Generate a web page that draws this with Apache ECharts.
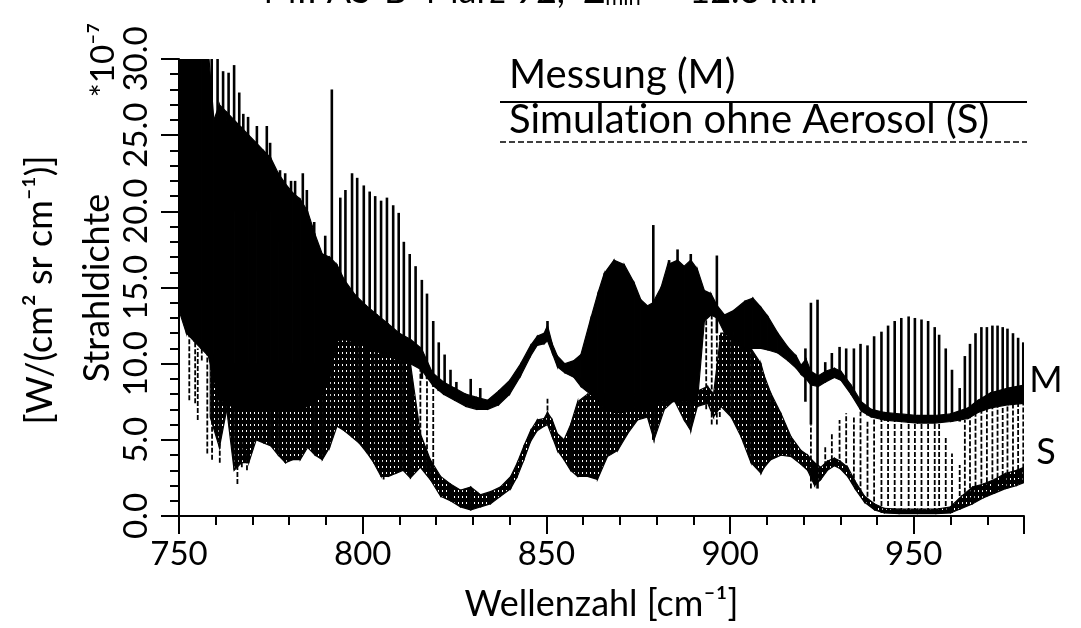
<!DOCTYPE html>
<html>
<head>
<meta charset="utf-8">
<script src="https://cdn.jsdelivr.net/npm/echarts@6/dist/echarts.min.js"></script>
<style>
  html, body { margin: 0; padding: 0; background: #fff; }
  #chart { width: 1081px; height: 628px; }
</style>
</head>
<body>
<div id="chart"></div>
<script>
// Wavenumber axis [cm^-1] and radiance axis [10^-7 W/(cm^2 sr cm^-1)]
const xTicks = [750, 800, 850, 900, 950];
const yTicks = [0, 5, 10, 15, 20, 25, 30];

// Measured spectrum (M): dense part as a band [wavenumber, lower, upper]
const messBand = [
  [750, 13.5, 30.5], [752, 12, 30.5], [754, 11.5, 30.5], [756, 11, 30.5], [758, 10.5, 30.5],
  [759.5, 9, 26], [761, 7.5, 27], [763, 7.5, 26.5], [765, 7, 26], [767, 7, 25.5],
  [769, 7, 25], [771, 7, 24.5], [773, 7, 24], [775, 7, 23.5], [777, 7, 22.5],
  [779, 7, 21.8], [781, 7, 21.2], [783, 7, 20.8], [785, 7.2, 20], [787, 7.5, 18.5],
  [789, 8, 17.2], [791, 9, 17], [793, 11.5, 16.5], [795, 11.6, 15.5], [798, 11.4, 14.5],
  [801, 11.1, 13.8], [804, 10.8, 13.2], [807, 10.5, 12.6], [810, 10.2, 12], [813, 10, 11.6],
  [816, 9.6, 11], [819, 8.6, 9.4], [822, 8.0, 8.8], [825, 7.6, 8.4], [828, 7.2, 8.0],
  [831, 7.0, 7.8], [834, 7.0, 7.6], [837, 7.3, 8.2], [840, 8.0, 8.9], [843, 9.2, 10.0],
  [845.7, 10.5, 11.2], [847.5, 11.2, 11.8], [849.4, 11.3, 12.0], [850.3, 11.5, 12.5], [851.6, 10.7, 11.3],
  [853, 9.8, 10.5], [855, 9.4, 10.0], [857.5, 9.1, 10.2], [859.4, 8.5, 10.6], [862, 8.0, 12.9],
  [864, 7.5, 14.6], [865.7, 7, 15.9], [868.4, 6.8, 16.8], [871.2, 6.8, 16.5], [873.9, 7, 15.3],
  [875.7, 7, 14.2], [877.5, 7, 13.8], [879, 7, 14.0], [881.2, 7.5, 15.0], [883, 7.5, 16.5],
  [885.7, 7.5, 16.8], [887.5, 7.5, 16.4], [889.3, 7.5, 16.8], [891.1, 7.5, 16.2], [893, 12.8, 14.8],
  [894.8, 13.2, 14.6], [896.5, 13.0, 13.8], [898.5, 12, 13.2], [901, 11.5, 13.5], [904, 10.8, 14.1],
  [906.2, 11, 14.3], [908.4, 11, 13.7], [910.3, 10.9, 13.1], [913, 10.7, 12.0], [915.7, 10.2, 11.1],
  [918, 9.7, 10.5], [919.3, 9.3, 9.9], [920.7, 9.0, 10.3], [922, 8.6, 9.5], [924, 8.5, 9.2],
  [926, 8.8, 9.5], [928.4, 9.1, 9.7], [930.2, 8.9, 9.5], [932.9, 8.0, 8.6], [935.7, 6.9, 7.5],
  [938.4, 6.5, 7.0], [942, 6.3, 6.8], [946.6, 6.2, 6.7], [951, 6.1, 6.6], [955.7, 6.1, 6.6],
  [960, 6.2, 6.7], [964.8, 6.4, 7.1], [967.5, 6.8, 7.6], [971, 7.1, 8.1], [975.7, 7.3, 8.4],
  [980, 7.4, 8.6]
];

// Measured spectrum (M): single emission / absorption lines [wavenumber, lower, upper]
const messLines = [
  [758.9, 20, 30.5], [760.5, 20, 30.5], [762, 20, 29.2], [763.5, 20, 29.1], [765, 20, 29.6],
  [766.4, 20, 27.8], [767.5, 20, 26.4], [768.8, 20, 26.2], [771.2, 20, 25.6], [773.9, 20, 25.6],
  [774.8, 20, 24.5], [777.5, 18, 22.7], [778.9, 18, 22.5], [780.5, 18, 22.0], [781.6, 18, 22.0],
  [783.7, 18, 22.5], [784.8, 18, 21.4], [786.8, 16, 19.3], [789.8, 16, 18.4], [791.6, 14, 28],
  [793.9, 14, 20.9], [795.3, 14, 21.4], [797.1, 13, 22.5], [798.5, 13, 22.2], [800.3, 12, 21.7],
  [801.9, 12, 21.3], [803.4, 12, 21.0], [805, 12, 20.7], [806.6, 12, 20.9], [808.3, 11, 20.4],
  [809.8, 11, 19.9], [811.2, 11, 18.0], [812.8, 11, 17.2], [814.4, 10, 16.4], [816.1, 9, 15.5],
  [817.5, 9, 14.6], [819.2, 8.5, 12.8], [820.7, 8.2, 11.4], [822.3, 8, 10.6], [823.9, 8, 9.6],
  [825.5, 8, 8.8], [829.4, 7.6, 9.0], [832, 7.4, 8.4], [850.3, 11.8, 12.8], [879.1, 5.0, 19.1],
  [883.4, 8, 16.8], [885.7, 7.5, 17.5], [889.3, 7.5, 17.2], [896.4, 12, 17.1], [920.5, 7.5, 11.0],
  [922, 6, 14.0], [923.8, 1.8, 14.2],
  [925.9, 8.8, 10.1], [927.7, 9.0, 10.7], [929.8, 9.1, 11.1], [931.6, 8.6, 11.0], [933.7, 8.0, 11.0],
  [935.5, 7.0, 11.3], [937.4, 6.6, 11.2], [939.2, 6.5, 11.8], [941.2, 6.3, 12.1], [943.0, 6.3, 12.5],
  [944.8, 6.3, 12.8], [946.6, 6.2, 13.0], [948.6, 6.1, 13.1], [950.3, 6.1, 13.0], [952.1, 6.1, 12.9],
  [953.9, 6.1, 12.8], [955.7, 6.1, 12.4], [956.9, 6.1, 11.9], [958.7, 6.2, 11.0], [960.4, 6.2, 9.6],
  [962.5, 6.2, 8.4], [963.9, 6.4, 10.5], [965.3, 6.6, 11.3], [966.8, 6.8, 12.0], [968.4, 7.0, 12.4],
  [969.9, 7.1, 12.4], [971.4, 7.1, 12.5], [972.8, 7.2, 12.5], [974.2, 7.3, 12.4], [975.5, 7.3, 12.3],
  [977.0, 7.3, 12.0], [978.4, 7.4, 11.7], [979.8, 7.4, 11.4]
];

// Simulation without aerosol (S): dense part as a band [wavenumber, lower, upper]
const simBand = [
  [758.5, 6.5, 10.6], [761, 4.5, 10.5], [763, 7, 10.5], [765, 3, 10], [767, 3.5, 10],
  [769, 3.5, 10], [771, 5, 10], [773, 4.8, 10], [775, 4.6, 10], [777, 4.0, 10],
  [779, 3.5, 10], [781, 3.7, 10], [783, 3.7, 10], [785, 4.5, 10], [787, 4.0, 10],
  [789, 3.7, 10.5], [791, 4.5, 11], [793, 5.9, 11.5], [795, 5.6, 11.6], [797, 5.2, 11.5],
  [799, 4.8, 11.3], [801, 4.2, 11.1], [803, 3.5, 10.9], [805, 2.6, 10.7], [807, 2.6, 10.5],
  [809, 2.8, 10.3], [811, 3.0, 10.1], [813, 2.5, 10], [815.7, 3.2, 5.4], [818.4, 2.4, 3.7],
  [821.2, 1.3, 2.6], [823.9, 1.0, 2.1], [826.6, 0.6, 1.7], [829.4, 0.4, 1.9], [832.1, 0.6, 1.4],
  [834.8, 0.8, 1.6], [837.5, 1.3, 1.9], [840.3, 1.8, 2.6], [842.1, 2.6, 3.5], [843.9, 3.7, 4.6],
  [845.7, 4.9, 5.6], [847.5, 5.6, 6.3], [849.4, 5.9, 6.4], [850.3, 6.0, 6.8], [851.6, 5.2, 6.3],
  [853, 4.3, 5.4], [854.8, 3.7, 5.0], [856.6, 3.0, 6], [858.5, 2.6, 7.5], [861.2, 2.6, 8],
  [863.9, 2.4, 8], [866.6, 3.9, 8], [869.4, 4.3, 8], [872.1, 5.4, 8], [874.8, 6.3, 8],
  [877.5, 6.5, 8], [879.3, 5.0, 8], [882.1, 7.0, 8], [884.8, 7.6, 8.2], [887.5, 6.3, 8.2],
  [889.3, 5.6, 8.2], [891.1, 7.2, 8.2], [893.9, 7.4, 8.5], [895.5, 6.5, 8], [897.5, 7.2, 12],
  [900.3, 6.5, 12], [903, 5.2, 11], [905.7, 3.5, 11], [908.4, 2.8, 10], [909.3, 3.2, 9.2],
  [911.1, 3.7, 8.05], [913.9, 4.0, 6.7], [916.6, 3.9, 5.2], [919.3, 3.4, 4.3], [921.1, 3.0, 4.0],
  [923, 2.0, 3.5], [924.7, 2.4, 3.2], [926.5, 3.0, 3.6], [928.4, 3.3, 3.8], [930, 3.1, 3.6],
  [932, 2.6, 3.2], [934, 1.8, 2.3], [936.6, 0.9, 1.3], [939.3, 0.4, 0.8], [942, 0.2, 0.5],
  [946, 0.15, 0.45], [951, 0.15, 0.45], [956, 0.15, 0.45], [960, 0.2, 0.6], [963, 0.5, 1.3],
  [966, 0.8, 1.9], [969, 1.2, 2.1], [972, 1.5, 2.4], [975, 1.8, 2.8], [978, 2.0, 3.0],
  [980, 2.2, 3.2]
];

// Simulation without aerosol (S): single lines [wavenumber, lower, upper]
const simLines = [
  [751.2, 13, 14], [752.8, 7.6, 12], [754.4, 7.4, 12], [755.1, 6.3, 11], [756.2, 10.2, 11],
  [757.7, 4.1, 11], [759, 3.7, 8], [761.1, 3.5, 8], [765.9, 2.1, 5], [767.1, 3.2, 5],
  [768.5, 3.0, 5], [778.9, 3.5, 5], [805.7, 2.4, 4], [815.7, 3.5, 10], [817.5, 3, 9.5],
  [819.2, 2.5, 9], [850.3, 6.0, 7.7], [893.5, 7, 14], [895, 6, 13.5], [896.4, 6, 12],
  [897.2, 6.5, 12], [922, 1.8, 6],
  [925.9, 2.8, 4.55], [927.7, 3.2, 5.43], [929.8, 3.3, 6.3], [931.6, 3.0, 6.74], [933.7, 2.0, 6.52],
  [935.5, 1.5, 6.85], [937.4, 0.8, 6.3], [939.2, 0.5, 6.52], [941.2, 0.2, 6.52], [943.0, 0.2, 6.52],
  [944.8, 0.2, 6.3], [946.6, 0.2, 6.52], [948.6, 0.2, 6.3], [950.3, 0.2, 6.3], [952.1, 0.2, 6.3],
  [953.9, 0.2, 6.3], [955.7, 0.2, 6.3], [956.9, 0.2, 6.08], [958.7, 0.2, 5.21], [960.4, 0.2, 4.11],
  [962.5, 0.4, 3.35], [963.9, 0.6, 6.3], [965.3, 0.9, 6.74], [966.8, 1.0, 6.96], [968.4, 1.2, 7.18],
  [969.9, 1.3, 7.18], [971.4, 1.5, 7.18], [972.8, 1.6, 7.18], [974.2, 1.7, 7.18], [975.5, 1.8, 7.4],
  [977.0, 2.0, 7.4], [978.4, 2.1, 10.0], [979.8, 2.2, 9.8]
];

const FONT = 'Lato, "Open Sans", sans-serif';

// Texture for the simulated band: black with short white gaps, like tightly packed dashed lines
const tex = document.createElement('canvas');
tex.width = 4; tex.height = 6;
(function () {
  const c = tex.getContext('2d');
  c.fillStyle = '#000'; c.fillRect(0, 0, 4, 6);
  c.fillStyle = '#fff'; c.fillRect(2, 4, 1, 2);
})();

function bandRenderer(rows, fill) {
  return function (params, api) {
    const i = params.dataIndex;
    if (i >= rows.length - 1) return null;
    const a = rows[i], b = rows[i + 1];
    const pts = [
      api.coord([a[0], a[1]]), api.coord([b[0], b[1]]),
      api.coord([b[0], b[2]]), api.coord([a[0], a[2]])
    ];
    return {
      type: 'polygon',
      shape: { points: pts },
      style: { fill: fill, stroke: '#000', lineWidth: 1.2 }
    };
  };
}

function lineRenderer(width, dash) {
  return function (params, api) {
    const p1 = api.coord([api.value(0), api.value(1)]);
    const p2 = api.coord([api.value(0), api.value(2)]);
    return {
      type: 'line',
      shape: { x1: p1[0], y1: p1[1], x2: p2[0], y2: p2[1] },
      style: { stroke: '#000', lineWidth: width, lineDash: dash }
    };
  };
}

const chart = echarts.init(document.getElementById('chart'), null, { renderer: 'canvas' });

const txt = (size) => size + 'px ' + FONT;

const option = {
  animation: false,
  backgroundColor: '#fff',
  grid: { left: 179, right: 57, top: 59, bottom: 112 },
  xAxis: {
    type: 'value', min: 750, max: 980, interval: 50,
    name: 'Wellenzahl [cm⁻¹]', nameLocation: 'middle', nameGap: 70,
    nameTextStyle: { fontFamily: FONT, fontSize: 36, color: '#000' },
    axisLine: { onZero: false, lineStyle: { color: '#000', width: 2 } },
    axisTick: { length: 18, lineStyle: { color: '#000', width: 2 } },
    minorTick: { show: true, splitNumber: 5, length: 9, lineStyle: { color: '#000', width: 2 } },
    splitLine: { show: false },
    axisLabel: {
      margin: 22, fontFamily: FONT, fontSize: 33, color: '#000',
      formatter: v => (xTicks.indexOf(v) >= 0 ? String(v) : '')
    }
  },
  yAxis: {
    type: 'value', min: 0, max: 30, interval: 5,
    axisLine: { lineStyle: { color: '#000', width: 2 } },
    axisTick: { length: 18, lineStyle: { color: '#000', width: 2 } },
    minorTick: { show: true, splitNumber: 5, length: 9, lineStyle: { color: '#000', width: 2 } },
    splitLine: { show: false },
    axisLabel: {
      rotate: 90, margin: 26, fontFamily: FONT, fontSize: 33, color: '#000',
      formatter: v => (yTicks.indexOf(v) >= 0 ? v.toFixed(1) : '')
    }
  },
  series: [
    {
      name: 'Simulation ohne Aerosol (S)', type: 'custom', clip: true,
      renderItem: bandRenderer(simBand, { image: tex, repeat: 'repeat' }),
      encode: { x: 0, y: [1, 2] }, data: simBand
    },
    {
      name: 'Simulation ohne Aerosol (S) Linien', type: 'custom', clip: true,
      renderItem: lineRenderer(1.8, [5, 2]),
      encode: { x: 0, y: [1, 2] }, data: simLines
    },
    {
      name: 'Messung (M)', type: 'custom', clip: true,
      renderItem: bandRenderer(messBand, '#000'),
      encode: { x: 0, y: [1, 2] }, data: messBand
    },
    {
      name: 'Messung (M) Linien', type: 'custom', clip: true,
      renderItem: lineRenderer(2.6, null),
      encode: { x: 0, y: [1, 2] }, data: messLines
    }
  ],
  graphic: [
    // Title, running off the top edge
    {
      type: 'text', left: 'center', x: 0, top: -27,
      style: {
        text: '{a|MIPAS-B  März 92,  Z}{b|min}{a| =  12.3 km}',
        fill: '#000', font: txt(36),
        rich: {
          a: { fontFamily: FONT, fontSize: 36, fill: '#000' },
          b: { fontFamily: FONT, fontSize: 22, fill: '#000', padding: [14, 0, 0, 0] }
        }
      }
    },
    // Legend: label above its line sample (ZWNJ keeps "t" and "i" as separate letters)
    { type: 'text', x: 509, y: 95, style: { text: 'Messung (M)', font: txt(40), fill: '#000', textVerticalAlign: 'bottom' } },
    { type: 'line', shape: { x1: 500, y1: 102, x2: 1027, y2: 102 }, style: { stroke: '#000', lineWidth: 2 } },
    { type: 'text', x: 509, y: 140, style: { text: 'Simulat\u200Cion ohne Aerosol (S)', font: txt(40), fill: '#000', textVerticalAlign: 'bottom' } },
    { type: 'line', shape: { x1: 500, y1: 142, x2: 1027, y2: 142 }, style: { stroke: '#000', lineWidth: 1.5, lineDash: [6, 3] } },
    // Curve markers at the right edge
    { type: 'text', x: 1046, y: 380, style: { text: 'M', font: txt(36), fill: '#000', textAlign: 'center', textVerticalAlign: 'middle' } },
    { type: 'text', x: 1046, y: 452, style: { text: 'S', font: txt(36), fill: '#000', textAlign: 'center', textVerticalAlign: 'middle' } },
    // Y axis title and scale factor, rotated
    { type: 'text', x: 97, y: 288, rotation: Math.PI / 2, style: { text: 'Strahldichte', font: txt(36), fill: '#000', textAlign: 'center', textVerticalAlign: 'middle' } },
    { type: 'text', x: 40, y: 290, rotation: Math.PI / 2, style: { text: '[W/(cm² sr cm⁻¹)]', font: txt(36), fill: '#000', textAlign: 'center', textVerticalAlign: 'middle' } },
    { type: 'text', x: 103, y: 60, rotation: Math.PI / 2, style: { text: '*10⁻⁷', font: txt(33), fill: '#000', textAlign: 'center', textVerticalAlign: 'middle' } }
  ]
};

chart.setOption(option);
</script>
</body>
</html>
